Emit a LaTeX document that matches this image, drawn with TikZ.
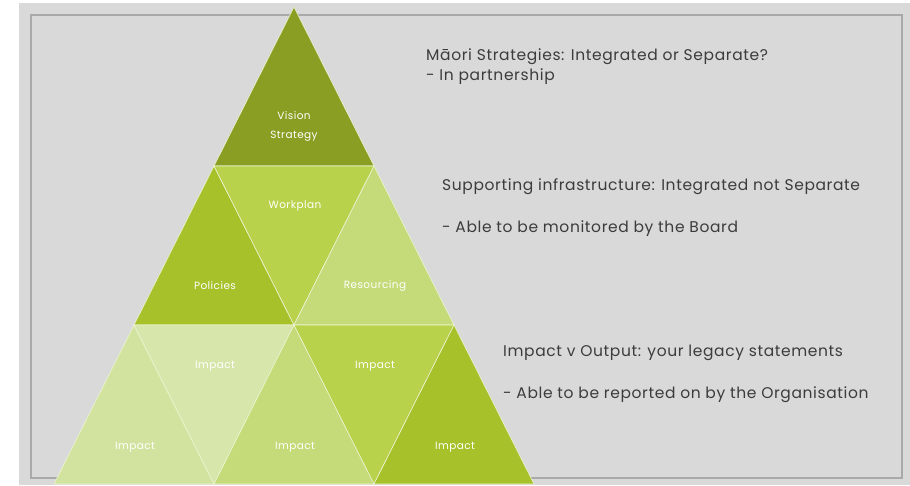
\documentclass[tikz,border=0pt]{standalone}
\usepackage{fontspec}
\setmainfont{Poppins}
\newfontfamily\notefont{Poppins}[LetterSpace=4]
\definecolor{pagegray}{HTML}{D9D9D9}
\definecolor{framegray}{HTML}{A9A9A9}
\definecolor{notegray}{HTML}{3C3C3C}
\definecolor{visioncol}{HTML}{8A9E23}
\definecolor{darkleaf}{HTML}{A7C12B}
\definecolor{midleaf}{HTML}{B8D24B}
\definecolor{paleleaf}{HTML}{C5DA78}
\definecolor{palestleaf}{HTML}{D2E3A0}
\tikzset{
  tri/.style={line width=0.6pt, draw=white!75!midleaf},
  lbl/.style={text=white, font=\notefont\fontsize{10.5}{19}\selectfont, align=center},
  note/.style={text=notegray, anchor=west, inner sep=0pt, font=\notefont\fontsize{15.5}{18}\selectfont}
}
\begin{document}
\begin{tikzpicture}[x=1pt, y=-1pt]
  \useasboundingbox (0,0) rectangle (910,485);
  \def\A{294}   % apex x
  \def\W{80}    % half base
  \def\H{159}   % row height
  % background and frame
  \fill[pagegray] (19,3) rectangle (910,485);
  \draw[framegray, line width=2pt] (31,15) rectangle (902,478);

  % row 1
  \draw[tri, fill=visioncol] (\A, 7) -- (\A-\W, 7+\H) -- (\A+\W, 7+\H) -- cycle;
  % row 2
  \draw[tri, fill=darkleaf] (\A-\W, 7+\H) -- (\A-2*\W, 7+2*\H) -- (\A, 7+2*\H) -- cycle;
  \draw[tri, fill=midleaf] (\A-\W, 7+\H) -- (\A+\W, 7+\H) -- (\A, 7+2*\H) -- cycle;
  \draw[tri, fill=paleleaf] (\A+\W, 7+\H) -- (\A, 7+2*\H) -- (\A+2*\W, 7+2*\H) -- cycle;
  % row 3
  \draw[tri, fill=palestleaf] (\A-2*\W, 7+2*\H) -- (\A-3*\W, 7+3*\H) -- (\A-\W, 7+3*\H) -- cycle;
  \draw[tri, fill=palestleaf!90!white] (\A-2*\W, 7+2*\H) -- (\A, 7+2*\H) -- (\A-\W, 7+3*\H) -- cycle;
  \draw[tri, fill=paleleaf] (\A, 7+2*\H) -- (\A-\W, 7+3*\H) -- (\A+\W, 7+3*\H) -- cycle;
  \draw[tri, fill=midleaf] (\A, 7+2*\H) -- (\A+2*\W, 7+2*\H) -- (\A+\W, 7+3*\H) -- cycle;
  \draw[tri, fill=darkleaf] (\A+2*\W, 7+2*\H) -- (\A+\W, 7+3*\H) -- (\A+3*\W, 7+3*\H) -- cycle;

  % labels
  \node[lbl] (vision) at (294,126) {Vision\\Strategy};
  \node[lbl] (workplan) at (295,206) {Workplan};
  \node[lbl] (policies) at (215,286) {Policies};
  \node[lbl] (resourcing) at (375,286) {Resourcing};
  \node[lbl] (impacta) at (215,366) {Impact};
  \node[lbl] (impactb) at (375,366) {Impact};
  \node[lbl] (impactc) at (135,447) {Impact};
  \node[lbl] (impactd) at (295,447) {Impact};
  \node[lbl] (impacte) at (455,447) {Impact};

  % notes
  \node[note] (maori) at (426,57) {Māori Strategies: Integrated or Separate?};
  \node[note] (partner) at (426,77) {- In partnership};
  \node[note] (support) at (442,187) {Supporting infrastructure: Integrated not Separate};
  \node[note] (board) at (442,229) {- Able to be monitored by the Board};
  \node[note] (output) at (503,353) {Impact v Output: your legacy statements};
  \node[note] (organ) at (503,395) {- Able to be reported on by the Organisation};
\end{tikzpicture}
\end{document}
